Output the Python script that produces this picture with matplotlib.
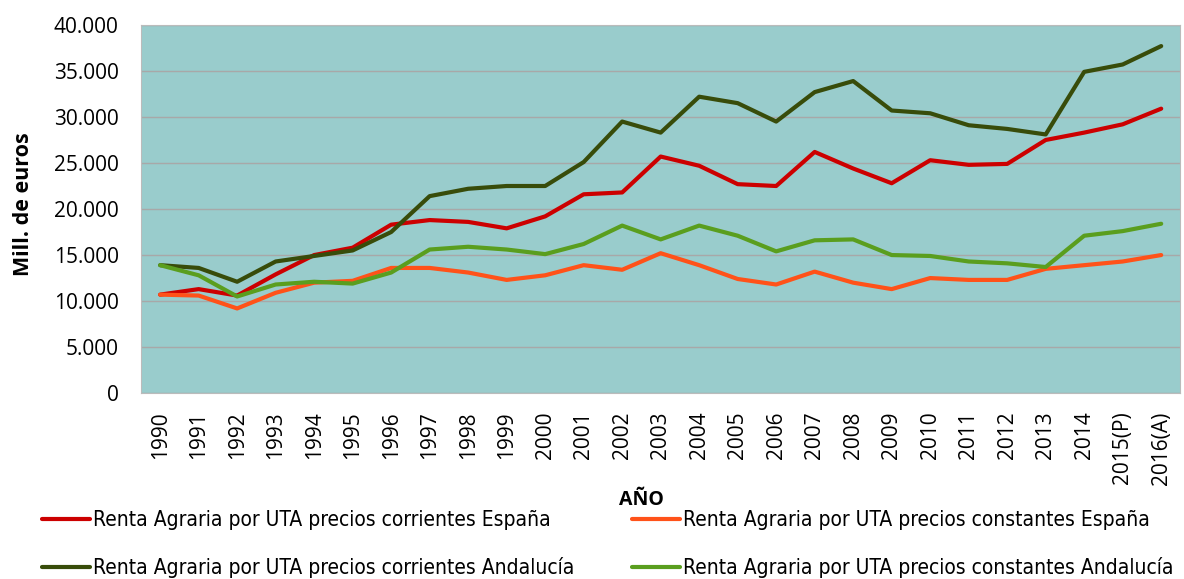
import matplotlib
matplotlib.use('Agg')
import matplotlib.pyplot as plt
from matplotlib.ticker import FuncFormatter
from matplotlib.font_manager import FontProperties

plt.rcParams['font.family'] = ['Open Sans', 'DejaVu Sans']

# Data (euros)
years = ['1990', '1991', '1992', '1993', '1994', '1995', '1996', '1997', '1998',
         '1999', '2000', '2001', '2002', '2003', '2004', '2005', '2006', '2007',
         '2008', '2009', '2010', '2011', '2012', '2013', '2014', '2015(P)', '2016(A)']

corrientes_espana = [10700, 11300, 10600, 12900, 15000, 15800, 18300, 18800, 18600,
                     17900, 19200, 21600, 21800, 25700, 24700, 22700, 22500, 26200,
                     24400, 22800, 25300, 24800, 24900, 27500, 28300, 29200, 30900]
constantes_espana = [10700, 10600, 9200, 10900, 12000, 12200, 13600, 13600, 13100,
                     12300, 12800, 13900, 13400, 15200, 13900, 12400, 11800, 13200,
                     12000, 11300, 12500, 12300, 12300, 13500, 13900, 14300, 15000]
corrientes_andalucia = [13900, 13600, 12100, 14300, 14900, 15500, 17500, 21400, 22200,
                        22500, 22500, 25100, 29500, 28300, 32200, 31500, 29500, 32700,
                        33900, 30700, 30400, 29100, 28700, 28100, 34900, 35700, 37700]
constantes_andalucia = [13900, 12800, 10500, 11800, 12100, 11900, 13100, 15600, 15900,
                        15600, 15100, 16200, 18200, 16700, 18200, 17100, 15400, 16600,
                        16700, 15000, 14900, 14300, 14100, 13700, 17100, 17600, 18400]

labels = ['Renta Agraria por UTA precios corrientes España',
          'Renta Agraria por UTA precios corrientes Andalucía',
          'Renta Agraria por UTA precios constantes España',
          'Renta Agraria por UTA precios constantes Andalucía']
colors = ['#CC0000', '#384C0A', '#FF5219', '#5A9E1E']

fig = plt.figure(figsize=(11.84, 5.79), dpi=100)
ax = fig.add_axes([0.119, 0.321, 0.878, 0.636])
ax.set_facecolor('#99CCCC')

x = range(len(years))
series = [corrientes_espana, corrientes_andalucia, constantes_espana, constantes_andalucia]
handles = []
for vals, lab, col in zip(series, labels, colors):
    h, = ax.plot(x, vals, color=col, lw=3, label=lab, solid_capstyle='round')
    handles.append(h)

ax.set_xlim(-0.5, len(years) - 0.5)
ax.set_ylim(0, 40000)
ax.set_yticks(range(0, 40001, 5000))
ax.yaxis.set_major_formatter(FuncFormatter(lambda v, p: f"{v:,.0f}".replace(',', '.')))
ax.set_xticks(list(x))
ax.set_xticklabels(years, rotation=90, va='top', ha='center')
ax.tick_params(axis='both', length=0, labelsize=15, colors='black')
ax.tick_params(axis='y', pad=16)
ax.tick_params(axis='x', pad=13)
ax.grid(axis='y', color='#A8A8A8', lw=1)
ax.set_axisbelow(True)
for s in ax.spines.values():
    s.set_color('#BBBBBB')

fig.text(0.0195, 0.648, 'Mill. de euros', fontsize=15.5, fontweight='bold',
         rotation=90, ha='center', va='center')
fig.text(0.5415, 0.136, 'AÑO', fontsize=14, fontweight='bold', ha='center', va='center')

# narrow legend font, like the original
leg_font = FontProperties(family='DejaVu Sans', stretch='condensed', size=15)
leg = fig.legend(handles=handles, labels=labels, ncol=2, loc='upper left',
                 bbox_to_anchor=(0.0266, 0.137), frameon=False, borderpad=0,
                 handlelength=2.3, handletextpad=0.15, columnspacing=2.78,
                 labelspacing=1.3, prop=leg_font)

fig.savefig('out.png', dpi=100)
